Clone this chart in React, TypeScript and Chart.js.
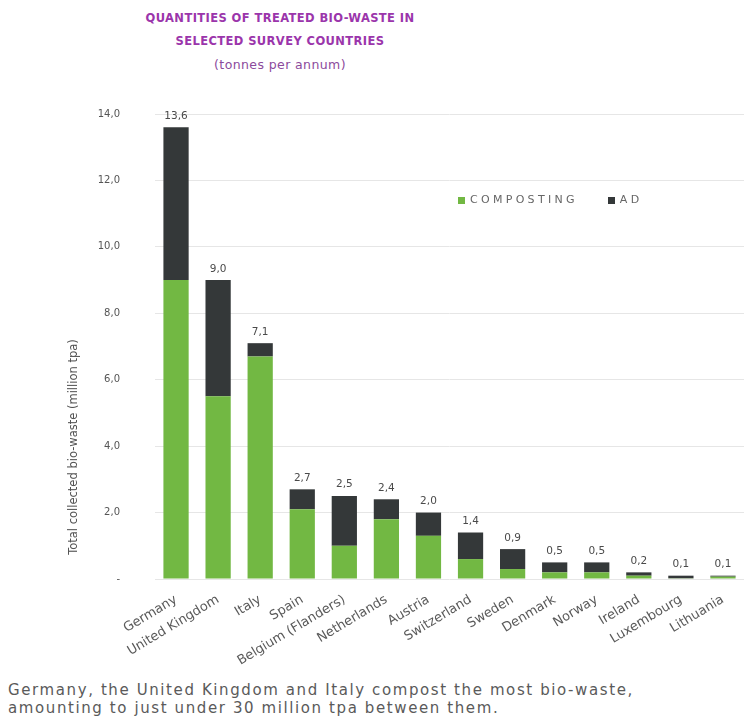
import React, { useEffect, useRef } from "react";
import { Chart, registerables } from "chart.js";

Chart.register(...registerables);

const categories = [
  "Germany",
  "United Kingdom",
  "Italy",
  "Spain",
  "Belgium (Flanders)",
  "Netherlands",
  "Austria",
  "Switzerland",
  "Sweden",
  "Denmark",
  "Norway",
  "Ireland",
  "Luxembourg",
  "Lithuania",
];
const composting = [9.0, 5.5, 6.7, 2.1, 1.0, 1.8, 1.3, 0.6, 0.3, 0.2, 0.2, 0.1, 0.02, 0.07];
const ad = [4.6, 3.5, 0.4, 0.6, 1.5, 0.6, 0.7, 0.8, 0.6, 0.3, 0.3, 0.1, 0.08, 0.03];
const seriesNames = ["COMPOSTING", "AD"];
const seriesColors = ["#72b843", "#343839"];
const yTicks = [0, 2, 4, 6, 8, 10, 12, 14];

const titleLines = ["QUANTITIES OF TREATED BIO-WASTE IN", "SELECTED SURVEY COUNTRIES"];
const subtitle = "(tonnes per annum)";
const yTitle = "Total collected bio-waste (million tpa)";
const captionLines = [
  "Germany, the United Kingdom and Italy compost the most bio-waste,",
  "amounting to just under 30 million tpa between them.",
];

const fmt = (v: number) => (v === 0 ? "-" : v.toFixed(1).replace(".", ","));

const totalsPlugin = {
  id: "totals",
  afterDatasetsDraw(chart: any) {
    const { ctx } = chart;
    const xs = chart.scales.x;
    const ys = chart.scales.y;
    ctx.save();
    ctx.font = "10.5px 'DejaVu Sans'";
    ctx.fillStyle = "#4a4a4a";
    ctx.textAlign = "center";
    ctx.textBaseline = "bottom";
    categories.forEach((_, i) => {
      const total = composting[i] + ad[i];
      const x = xs.getPixelForValue(i);
      const y = ys.getPixelForValue(total);
      ctx.fillText(fmt(Math.round(total * 10) / 10), x, y - 6);
    });
    ctx.restore();
  },
};

export default function App() {
  const ref = useRef<HTMLCanvasElement | null>(null);

  useEffect(() => {
    if (!ref.current) return;
    const chart = new Chart(ref.current, {
      type: "bar",
      data: {
        labels: categories,
        datasets: [
          { label: seriesNames[0], data: composting, backgroundColor: seriesColors[0] },
          { label: seriesNames[1], data: ad, backgroundColor: seriesColors[1] },
        ],
      },
      options: {
        animation: false,
        responsive: false,
        maintainAspectRatio: false,
        layout: { padding: { left: 0, top: 114, right: 0, bottom: 0 } },
        datasets: { bar: { barPercentage: 0.6, categoryPercentage: 1.0 } },
        plugins: {
          legend: { display: false },
          title: { display: false },
          tooltip: { enabled: false },
        },
        scales: {
          x: {
            stacked: true,
            grid: { display: false },
            border: { display: false },
            ticks: {
              autoSkip: false,
              minRotation: 31,
              maxRotation: 31,
              padding: 5,
              color: "#5a5a5a",
              font: { family: "'DejaVu Sans'", size: 13 },
            },
            afterFit: (s: any) => {
              s.height = 101;
            },
          },
          y: {
            stacked: true,
            min: 0,
            max: 14,
            afterBuildTicks: (s: any) => {
              s.ticks = yTicks.map((v) => ({ value: v }));
            },
            grid: { color: "#e6e6e6", drawTicks: false, lineWidth: 1 },
            border: { display: false },
            ticks: {
              padding: 35,
              color: "#555",
              font: { family: "'DejaVu Sans'", size: 10 },
              callback: (v: any) => fmt(Number(v)),
            },
            afterFit: (s: any) => {
              s.width = 155;
            },
          },
        },
      },
      plugins: [totalsPlugin],
    });
    return () => chart.destroy();
  }, []);

  return (
    <div style={{ position: "absolute", left: 0, top: 0, width: 744, height: 718, background: "#fff", overflow: "hidden", fontFamily: "'DejaVu Sans'" }}>
      <div style={{ position: "absolute", left: 120, width: 320, top: 7, textAlign: "center", color: "#9b35ab", fontWeight: "bold", fontSize: 11.5, lineHeight: "23px", letterSpacing: 0.4 }}>
        {titleLines.map((t) => (
          <div key={t}>{t}</div>
        ))}
        <div style={{ fontWeight: "normal", fontSize: 12.5, color: "#8c4a9c" }}>{subtitle}</div>
      </div>
      <canvas ref={ref} width={744} height={680} style={{ position: "absolute", left: 0, top: 0 }} />
      <div
        style={{
          position: "absolute",
          left: 73 - 120,
          top: 447 - 7,
          width: 240,
          height: 14,
          lineHeight: "14px",
          textAlign: "center",
          fontSize: 11.5,
          color: "#555",
          transform: "rotate(-90deg)",
          whiteSpace: "nowrap",
        }}
      >
        {yTitle}
      </div>
      <div style={{ position: "absolute", left: 458, top: 193, display: "flex", alignItems: "center", fontSize: 11, color: "#666", letterSpacing: 3.3, whiteSpace: "nowrap", lineHeight: "14px" }}>
        {seriesNames.map((n, i) => (
          <div key={n} style={{ display: "flex", alignItems: "center", marginRight: i === 0 ? 30 : 0 }}>
            <span style={{ display: "inline-block", width: 7, height: 7, background: seriesColors[i], marginRight: 5 }} />
            <span>{n}</span>
          </div>
        ))}
      </div>
      <div style={{ position: "absolute", left: 8, top: 681, fontSize: 15, lineHeight: "18px", color: "#5a5a5a", letterSpacing: 1.6, whiteSpace: "nowrap" }}>
        {captionLines.map((c) => (
          <div key={c}>{c}</div>
        ))}
      </div>
    </div>
  );
}
